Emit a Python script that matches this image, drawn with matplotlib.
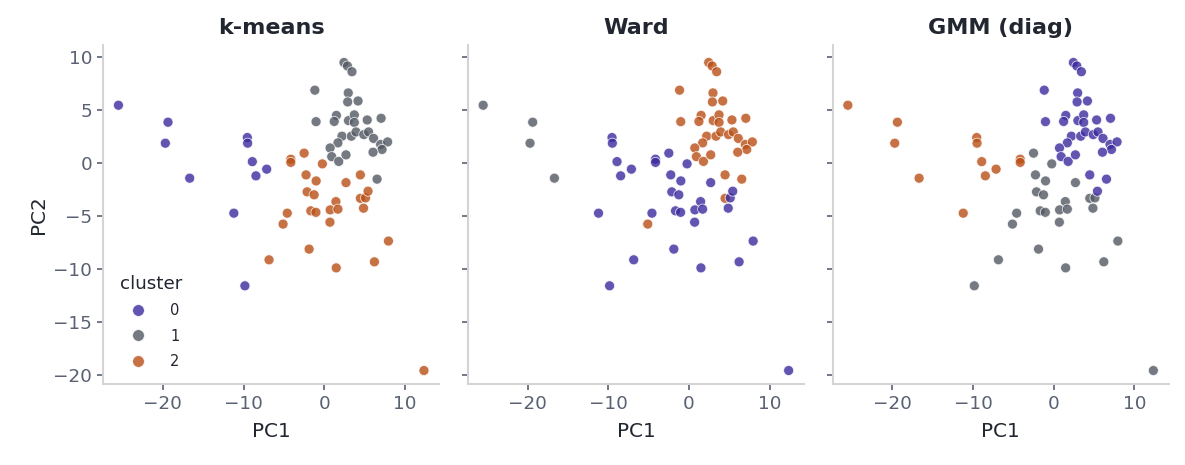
import matplotlib
matplotlib.use("Agg")
import matplotlib.pyplot as plt
from matplotlib.lines import Line2D
import numpy as np

# ---- data ----
pc1 = [
    -25.51, -19.37, -19.70, -16.68, -9.54, -9.50, -8.92, -8.47, -7.14, -11.21, -9.84,
    -4.15, -4.15, -2.50, -0.24, -2.26, -1.01, 2.69, 4.47, -2.13, -1.26, 1.44, 0.73, 1.69,
    -1.67, -1.04, -4.59, -5.11, 0.70, 4.47, 5.11, 5.42, 4.86, -1.88, 7.95, -6.85, 1.48, 6.21, 12.35,
    2.44, 2.87, 3.43, -1.17, 2.97, 2.90, 4.18, -1.02, 1.50, 1.23, 3.00, 3.72, 3.72, 5.32, 7.04,
    2.19, 3.35, 3.93, 4.90, 5.49, 6.11, 6.98, 7.85, 7.16, 6.04, 1.69, 0.72, 0.92, 1.79, 2.69, 6.54,
]
pc2 = [
    5.42, 3.82, 1.84, -1.46, 2.37, 1.84, 0.10, -1.24, -0.61, -4.76, -11.61,
    0.33, 0.03, 0.90, -0.11, -1.15, -1.72, -1.88, -1.15, -2.75, -3.03, -3.67, -4.45, -4.38,
    -4.54, -4.68, -4.76, -5.79, -5.61, -3.36, -3.32, -2.69, -4.29, -8.15, -7.39, -9.16, -9.92, -9.35, -19.60,
    9.45, 9.12, 8.58, 6.84, 6.58, 5.73, 5.82, 3.87, 4.46, 3.89, 3.97, 4.51, 3.80, 4.03, 4.19,
    2.50, 2.50, 2.90, 2.65, 2.90, 2.29, 1.72, 1.96, 1.25, 0.99, 1.87, 1.39, 0.57, 0.12, 0.74, -1.55,
]
kmeans_labels = [0] * 11 + [2] * 28 + [1] * 31
ward_labels = ([1] * 4 + [0] * 7
               + [0] * 7 + [2] + [0] * 8 + [2] + [0] + [2] + [0] * 9
               + [2] * 31)
gmm_labels = ([2] * 10 + [1]
              + [2, 2] + [1] * 5 + [0] + [1] * 12 + [0] + [1] * 7
              + [0] * 31)

titles = ["k-means", "Ward", "GMM (diag)"]
cluster_names = ["0", "1", "2"]
palette = ["#3A2A9E", "#525963", "#BA4F16"]

# ---- figure ----
W, H = 1185, 465
fig = plt.figure(figsize=(W / 100, H / 100), dpi=100)

tick_col = "#596173"
spine_col = "#d4d4d4"
text_col = "#222631"

ax_left, ax_w, ax_step = 103.2 / W, 336.0 / W, 364.7 / W
ax_bottom, ax_h = (H - 384.3) / H, 339.3 / H

axes = []
for i, (title, labels) in enumerate(zip(titles, [kmeans_labels, ward_labels, gmm_labels])):
    if i == 0:
        ax = fig.add_axes([ax_left + i * ax_step, ax_bottom, ax_w, ax_h])
    else:
        ax = fig.add_axes([ax_left + i * ax_step, ax_bottom, ax_w, ax_h],
                          sharex=axes[0], sharey=axes[0])
    axes.append(ax)
    cols = [palette[l] for l in labels]
    ax.scatter(pc1, pc2, c=cols, s=52, alpha=0.8, edgecolors="white", linewidths=0.6, zorder=3)
    ax.set_title(title, fontsize=16, fontweight="bold", color=text_col, pad=8)
    ax.set_xlabel("PC1", fontsize=14.4, color=text_col, labelpad=6)
    for side in ["top", "right"]:
        ax.spines[side].set_visible(False)
    for side in ["left", "bottom"]:
        ax.spines[side].set_color(spine_col)
        ax.spines[side].set_linewidth(1.5)
    ax.tick_params(axis="both", colors=tick_col, labelsize=13.2, length=4.5, width=1.2)
    ax.set_xticks([-20, -10, 0, 10])
    ax.set_yticks([10, 5, 0, -5, -10, -15, -20])
    if i > 0:
        ax.tick_params(axis="y", labelleft=False)

axes[0].set_xlim(-27.4, 14.24)
axes[0].set_ylim(-20.9, 11.1)
axes[0].set_ylabel("PC2", fontsize=14.4, color=text_col, labelpad=4)

handles = [Line2D([], [], marker="o", linestyle="none", markersize=8.5,
                  markerfacecolor=palette[k], markeredgecolor="white",
                  markeredgewidth=0.6, alpha=0.8) for k in range(3)]
leg = axes[0].legend(handles, cluster_names, title="cluster", loc="lower left",
                     bbox_to_anchor=(0.02, 0.015), frameon=False, fontsize=10.5,
                     title_fontsize=13.2, labelspacing=0.72, handletextpad=1.2,
                     borderaxespad=0.3)
leg.get_title().set_color(text_col)
for t in leg.get_texts():
    t.set_color(text_col)

fig.savefig("out.png", dpi=100)
